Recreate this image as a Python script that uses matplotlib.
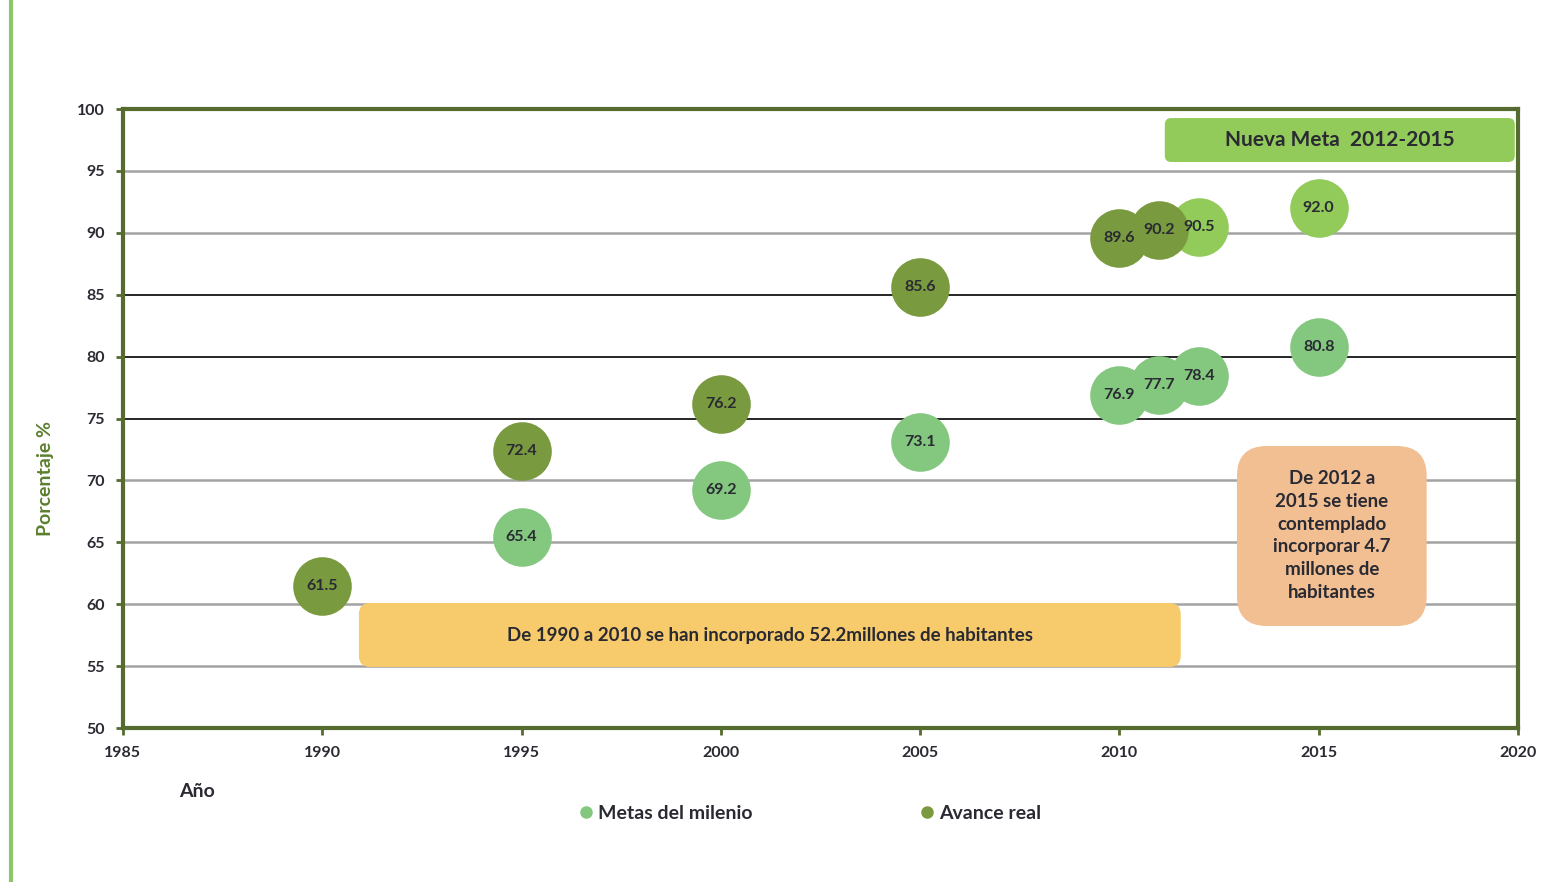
import matplotlib
matplotlib.use("Agg")
import matplotlib.pyplot as plt
from matplotlib.patches import FancyBboxPatch
from matplotlib.lines import Line2D

plt.rcParams['font.family'] = ['Lato', 'DejaVu Sans']

# ---- data ----
metas_years = [1995, 2000, 2005, 2010, 2011, 2012, 2015]
metas_vals = [65.4, 69.2, 73.1, 76.9, 77.7, 78.4, 80.8]
avance_years = [1990, 1995, 2000, 2005, 2010, 2011]
avance_vals = [61.5, 72.4, 76.2, 85.6, 89.6, 90.2]
nueva_years = [2012, 2015]
nueva_vals = [90.5, 92.0]
x_ticks = [1985, 1990, 1995, 2000, 2005, 2010, 2015, 2020]
y_ticks = [50, 55, 60, 65, 70, 75, 80, 85, 90, 95, 100]
dark_grid = [75, 80, 85]

c_metas = '#84C77E'
c_avance = '#7A9A40'
c_nueva = '#92CB59'
c_spine = '#556B2F'
c_text = '#2A2A33'

fig = plt.figure(figsize=(15.58, 8.82), dpi=100)
ax = fig.add_axes([0.0789, 0.1746, 0.8954, 0.7018])
ax.set_xlim(1985, 2020)
ax.set_ylim(50, 100)

# gridlines
for v in y_ticks[1:-1]:
    if v in dark_grid:
        ax.axhline(v, color='#151515', lw=1.3, zorder=1)
    else:
        ax.axhline(v, color='#a3a3a3', lw=1.8, zorder=1)

# pixels per data unit: x ~39.86, y ~12.38
ASPECT = 39.86 / 12.38

def rbox(x0, y0, x1, y1, color, r):
    p = FancyBboxPatch((x0, y0), x1 - x0, y1 - y0,
                       boxstyle=f"round,pad=0,rounding_size={r}",
                       mutation_aspect=ASPECT,
                       facecolor=color, edgecolor='none', zorder=2)
    ax.add_patch(p)

rbox(1990.92, 54.93, 2011.54, 60.1, '#F7CB6B', 0.28)
ax.text((1990.92 + 2011.54) / 2, 57.5, 'De 1990 a 2010 se han incorporado 52.2millones de habitantes',
        ha='center', va='center', fontsize=13.5, fontweight='bold', color=c_text, zorder=3)

rbox(2012.95, 58.24, 2017.71, 72.78, '#F2BF93', 0.75)
ax.text((2012.95 + 2017.71) / 2, 65.55,
        'De 2012 a\n2015 se tiene\ncontemplado\nincorporar 4.7\nmillones de\nhabitantes',
        ha='center', va='center', fontsize=13.5, fontweight='bold', color=c_text,
        linespacing=1.42, zorder=3)

rbox(2011.14, 95.72, 2019.92, 99.27, c_nueva, 0.16)
ax.text((2011.14 + 2019.92) / 2, 97.5, 'Nueva Meta  2012-2015',
        ha='center', va='center', fontsize=15, fontweight='bold', color=c_text, zorder=3)

# bubbles
S = 1780
ax.scatter(metas_years, metas_vals, s=S, color=c_metas, zorder=4, linewidths=0)
ax.scatter(nueva_years, nueva_vals, s=S, color=c_nueva, zorder=4, linewidths=0)
ax.scatter(avance_years, avance_vals, s=S, color=c_avance, zorder=5, linewidths=0)

for xs, ys, z in [(metas_years, metas_vals, 6), (nueva_years, nueva_vals, 6), (avance_years, avance_vals, 7)]:
    for x, y in zip(xs, ys):
        ax.text(x, y, f'{y:.1f}', ha='center', va='center', fontsize=11.5,
                fontweight='bold', color=c_text, zorder=z)

# axes styling
for side in ['left', 'bottom', 'top', 'right']:
    ax.spines[side].set_color(c_spine)
    ax.spines[side].set_linewidth(3)
ax.set_xticks(x_ticks)
ax.set_yticks(y_ticks)
ax.set_xticklabels([str(t) for t in x_ticks])
ax.set_yticklabels([str(t) for t in y_ticks])
ax.tick_params(axis='both', direction='out', length=5, width=2, color=c_spine,
               labelsize=11.5, labelcolor=c_text)
ax.tick_params(axis='x', pad=8)
ax.tick_params(axis='y', pad=8)
for lab in ax.get_xticklabels() + ax.get_yticklabels():
    lab.set_fontweight('bold')

fig.text(0.0289, 0.458, 'Porcentaje %', rotation=90, ha='center', va='center',
         fontsize=14, fontweight='bold', color='#5B7F2E')
fig.text(0.1265, 0.103, 'Año', ha='center', va='center', fontsize=14,
         fontweight='bold', color=c_text)

handles = [Line2D([], [], marker='o', ls='none', color=c_metas, markersize=8),
           Line2D([], [], marker='o', ls='none', color=c_avance, markersize=8)]
leg = fig.legend(handles, ['Metas del milenio', 'Avance real'], loc='center',
                 bbox_to_anchor=(0.519, 0.078), ncol=2, frameon=False,
                 handletextpad=0.1, columnspacing=8.5, handlelength=1.0,
                 prop={'weight': 'bold', 'size': 14})
for t in leg.get_texts():
    t.set_color(c_text)

# decorative left border line
fig.add_artist(Line2D([0.0070, 0.0070], [0, 1], color='#8CC56A', lw=3,
                      transform=fig.transFigure))

fig.savefig('out.png', dpi=100)
